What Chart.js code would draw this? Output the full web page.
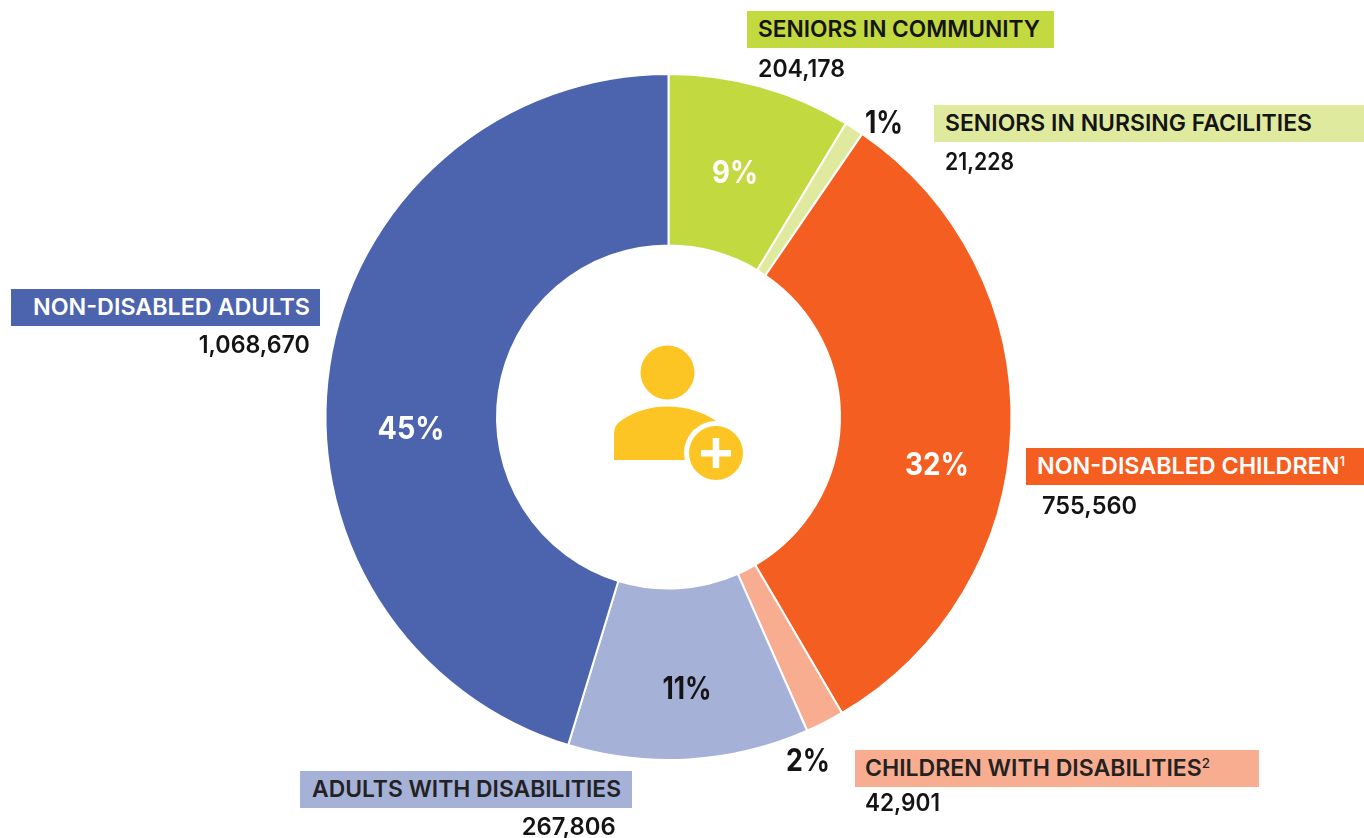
<!DOCTYPE html>
<html><head><meta charset="utf-8">
<script src="https://cdn.jsdelivr.net/npm/chart.js@4"></script>
<style>
html,body{margin:0;padding:0;background:#fff;width:1364px;height:838px;overflow:hidden}
#wrap{position:relative;width:1364px;height:838px;font-family:Inter,sans-serif;color:#141414}
canvas{position:absolute;left:0;top:0}
.box{position:absolute;height:37px}
.t{position:absolute;white-space:nowrap;line-height:1;font-weight:600}
sup{font-size:.58em;line-height:0;vertical-align:.6em;font-weight:500}
svg{position:absolute;left:0;top:0}
</style></head><body>
<div id="wrap"><canvas id="c" width="1364" height="838"></canvas></div>
<script>
const categories=["SENIORS IN COMMUNITY","SENIORS IN NURSING FACILITIES","NON-DISABLED CHILDREN","CHILDREN WITH DISABILITIES","ADULTS WITH DISABILITIES","NON-DISABLED ADULTS"];
const values=[204178,21228,755560,42901,267806,1068670];
const valueLabels=["204,178","21,228","755,560","42,901","267,806","1,068,670"];
const percents=["9%","1%","32%","2%","11%","45%"];
const footnotes=["","","1","2","",""];
const colors=["#C2D93F","#E0EA9F","#F55E21","#F9AD90","#A5B1D7","#4C63AE"];

new Chart(document.getElementById('c'),{
  type:'doughnut',
  data:{labels:categories,datasets:[{data:values,backgroundColor:colors,borderColor:'#fff',borderWidth:2}]},
  options:{responsive:false,animation:false,cutout:'50%',rotation:0,
    layout:{padding:{left:324,right:351,top:73,bottom:77}},
    plugins:{legend:{display:false},tooltip:{enabled:false}}}
});

const boxes=[[747,11,307,37],[934,105,430,37],[1026,448,338,37],[855,750,404,37],[300,771,332,37],[11,289,309,37]];
const nameX=[758,945,1037,865,312,33], nameW=[282,367,308,345,309,277], nameCol=['#141414','#141414','#fff','#222','#222','#fff'];
const valPos=[[758,69,'l',87],[945,162,'l',69],[1042,506,'l',95],[865,803,'l',75],[616,827,'r',94],[310,345,'r',111]];
const pctPos=[[735,171,'#fff',46],[884,121,'#141414',38],[937,463,'#fff',64],[808,759,'#141414',44],[686.5,687,'#141414',49],[410.5,427,'#fff',67]];
const wrap=document.getElementById('wrap');
function add(html,css,fit,origin,shift){const d=document.createElement('div');d.className='t';d.innerHTML=html;d.style.cssText=css;wrap.appendChild(d);
  const w=d.getBoundingClientRect().width;
  d.style.transformOrigin=origin+' center';
  d.style.transform=`${shift} scaleX(${fit/w})`;return d;}
categories.forEach((n,i)=>{
  const b=boxes[i],bd=document.createElement('div');bd.className='box';
  bd.style.cssText=`left:${b[0]}px;top:${b[1]}px;width:${b[2]}px;height:${b[3]}px;background:${colors[i]}`;wrap.appendChild(bd);
  const s=footnotes[i]?`<sup>${footnotes[i]}</sup>`:'';
  add(n+s,`left:${nameX[i]}px;top:${b[1]+b[3]/2-1}px;font-size:23.5px;font-weight:600;color:${nameCol[i]}`,nameW[i],'left','translateY(-50%)');
  const v=valPos[i];
  add(valueLabels[i],`${v[2]=='l'?'left:'+v[0]+'px':'right:'+(1364-v[0])+'px'};top:${v[1]}px;font-size:24px`,v[3],v[2]=='r'?'right':'left','translateY(-50%)');
  const p=pctPos[i];
  add(percents[i],`left:${p[0]}px;top:${p[1]}px;font-size:31px;font-weight:700;color:${p[2]}`,p[3],'center','translate(-50%,-50%)');
});
wrap.insertAdjacentHTML('beforeend',`<svg width="1364" height="838" viewBox="0 0 1364 838">
<circle cx="667.5" cy="372.5" r="27" fill="#FCC524"/>
<path d="M614 460V433Q614 425 622 420Q642 406.500 667 406.500Q695 406.500 716 421V460Z" fill="#FCC524"/>
<circle cx="716" cy="453" r="32" fill="#fff"/>
<circle cx="716" cy="453" r="27" fill="#FCC524"/>
<rect x="701" y="450" width="30" height="6.500" fill="#fff"/><rect x="712.700" y="438" width="6.500" height="30" fill="#fff"/>
</svg>`);
</script></body></html>
